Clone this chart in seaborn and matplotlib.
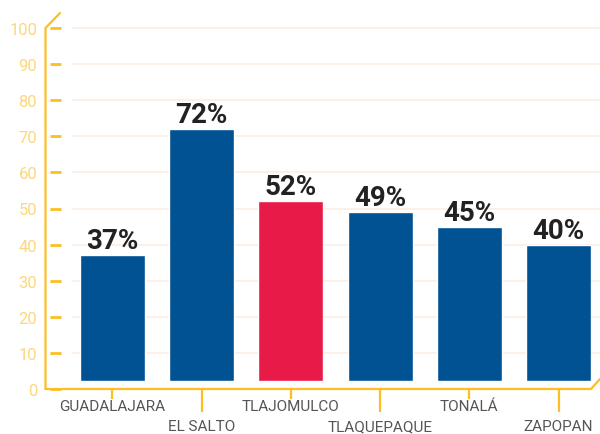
import matplotlib
matplotlib.use("Agg")
import matplotlib.pyplot as plt
import seaborn as sns
import pandas as pd

# datos
municipios = ["GUADALAJARA", "EL SALTO", "TLAJOMULCO", "TLAQUEPAQUE", "TONALÁ", "ZAPOPAN"]
porcentajes = [37, 72, 52, 49, 45, 40]
colores = ["#005293", "#005293", "#e81a47", "#005293", "#005293", "#005293"]
y_ticks = list(range(0, 101, 10))

AMARILLO = "#fbbf24"
AMARILLO_CLARO = "#fdd77e"
GRIS = "#555555"
GRID = "#fcede3"

sns.set_style("white")
plt.rcParams["font.family"] = ["Roboto", "DejaVu Sans"]

fig = plt.figure(figsize=(6, 4.35), dpi=100)
W, H = 545.5, 361.0
ax = fig.add_axes([45.5 / 600, 45 / 435, W / 600, H / 435])

df = pd.DataFrame({"municipio": municipios, "pct": porcentajes})
sns.barplot(data=df, x="municipio", y="pct", hue="municipio", palette=colores,
            legend=False, width=0.73, saturation=1, ax=ax, zorder=3)

# las barras arrancan un poco arriba del eje
base = 2.2
for p in ax.patches:
    h = p.get_height()
    p.set_y(base)
    p.set_height(h - base)

ax.set_ylim(0, 100)
ax.set_xlim(-0.751, 5.364)
for s in ax.spines.values():
    s.set_visible(False)

# cuadricula
for v in y_ticks[1:]:
    ax.axhline(v, xmin=(72 - 45.5) / W, xmax=(600 - 45.5) / W, color=GRID,
               lw=1.2, zorder=0, clip_on=False)

# eje y
ax.set_yticks(y_ticks)
ax.tick_params(axis="y", length=5, width=2, color=AMARILLO, pad=1,
               labelcolor=AMARILLO_CLARO, labelsize=12)
ty = ax.get_yaxis_transform()
for v in y_ticks:
    ax.plot([4.5 / W, 15 / W], [v, v], color=AMARILLO, lw=2, transform=ty,
            clip_on=False, solid_capstyle="butt")
ax.plot([0, 0, 14.5 / W], [0, 1, 1 + 15 / H], color=AMARILLO, lw=1.6,
        transform=ax.transAxes, clip_on=False)

# eje x
ax.plot([0, 1, 1 + 9 / W], [0, 0, 10 / H], color=AMARILLO, lw=1.6,
        transform=ax.transAxes, clip_on=False)
ax.set_xticks([])
ax.set_xlabel("")
ax.set_ylabel("")
tx = ax.get_xaxis_transform()
for i, m in enumerate(municipios):
    abajo = i % 2 == 1
    largo = 23 if abajo else 10
    ax.plot([i, i], [0, -largo / H], color=AMARILLO, lw=1.6, transform=tx,
            clip_on=False, solid_capstyle="butt")
    ax.text(i, -(37 if abajo else 17) / H, m, transform=tx, ha="center",
            va="center", fontsize=11, color=GRIS)

# etiquetas de valor
for i, v in enumerate(porcentajes):
    ax.annotate(f"{v}%", (i, v), xytext=(0, 5), textcoords="offset points",
                ha="center", va="baseline", fontsize=20, fontweight="bold",
                color="#222222")

fig.savefig("out.png", dpi=100)
